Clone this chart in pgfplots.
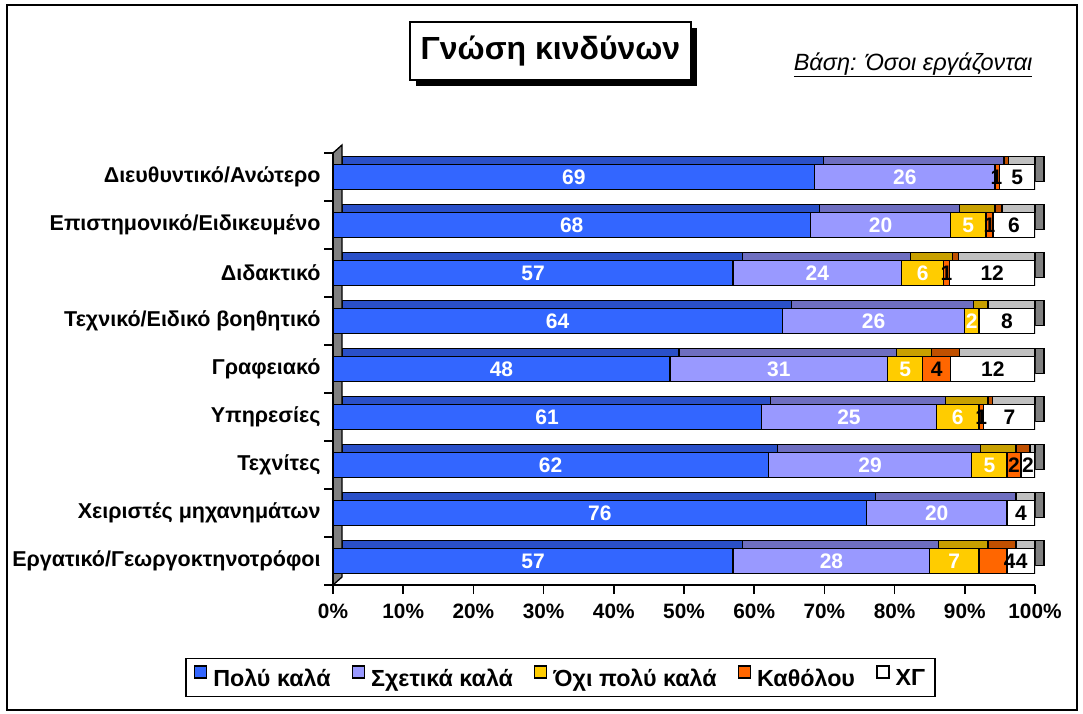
\documentclass[border=0pt]{standalone}
\usepackage{pgfplots}
\pgfplotsset{compat=1.18}
\usepackage{pgfplotstable}
\usepackage{fontspec}
\setmainfont{Liberation Sans}

\definecolor{cBlue}{HTML}{3366FF}
\definecolor{cBlueT}{HTML}{2A50C8}
\definecolor{cPurp}{HTML}{9999FF}
\definecolor{cPurpT}{HTML}{6E6EC0}
\definecolor{cYel}{HTML}{FFCC00}
\definecolor{cYelT}{HTML}{C8A000}
\definecolor{cOr}{HTML}{FF6600}
\definecolor{cOrT}{HTML}{C05000}
\definecolor{cGrT}{HTML}{C0C0C0}
\definecolor{cGrS}{HTML}{808080}

% front values
\pgfplotstableread{
y  a    b    c  d    e
8  68.6 25.7 0  0.6  5.1
7  68   20   5  1    6
6  57   24   6  0.8  12.2
5  64   26   2  0    8
4  48   31   5  4    12
3  61   25   6  0.7  7.3
2  62   29   5  2    2
1  76   20   0  0    4
0  57   28   7  4    4
}\datafront

% depth faces (same values, last 1.28 units form the side face)
\pgfplotstableread{
y  a    b    c  d    e     f
8  68.6 25.7 0  0.6  3.82  1.28
7  68   20   5  1    4.72  1.28
6  57   24   6  0.8  10.92 1.28
5  64   26   2  0    6.72  1.28
4  48   31   5  4    10.72 1.28
3  61   25   6  0.7  6.02  1.28
2  62   29   5  2    0.72  1.28
1  76   20   0  0    2.72  1.28
0  57   28   7  4    2.72  1.28
}\databack

\pgfplotstableread{
x     y  l
34.3  8  69
34    7  68
28.5  6  57
32    5  64
24    4  48
30.5  3  61
31    2  62
38    1  76
28.5  0  57
}\lblA
\pgfplotstableread{
x     y  l
81.45 8  26
78    7  20
69    6  24
77    5  26
63.5  4  31
73.5  3  25
76.5  2  29
86    1  20
71    0  28
}\lblB
\pgfplotstableread{
x     y  l
90.5  7  5
84    6  6
91    5  2
81.5  4  5
89    3  6
93.5  2  5
88.5  0  7
}\lblC
\pgfplotstableread{
x     y  l
94.5  8  1
93.5  7  1
87.4  6  1
86    4  4
92.35 3  1
97    2  2
96.4  0  4
}\lblD
\pgfplotstableread{
x     y  l
97.45 8  5
97    7  6
93.9  6  12
96    5  8
94    4  12
96.35 3  7
99    2  2
98    1  4
98.1  0  4
}\lblE

\pgfplotsset{
  myleg/.style={legend image code/.code={\draw[##1,draw=black,line width=1.5pt] (0pt,0pt) rectangle (12pt,12pt);}},
  segstyle/.style={draw=black, line width=1.3pt},
  lblstyle/.style={draw=none, mark=none, nodes near coords, point meta=explicit symbolic,
     every node near coord/.append style={anchor=center, font=\bfseries\fontsize{21}{25}\selectfont, text=#1, inner sep=0pt}},
}

\begin{document}
\begin{tikzpicture}
\path (0pt,0pt) rectangle (1083pt,713pt);
\draw[line width=1.6pt] (7pt,3pt) rectangle (1077pt,708pt);

% title
\fill[black] (416pt,627pt) rectangle (697pt,685pt);
\draw[fill=white,line width=1.5pt] (410pt,633pt) rectangle (691pt,691pt);
\node at (550.5pt,662pt) {\bfseries\fontsize{32}{38}\selectfont Γνώση κινδύνων};
\node[anchor=east] at (1036pt,648pt) {\itshape\fontsize{23.5}{28}\selectfont \underline{Βάση: Όσοι εργάζονται}};

% depth (top and side faces)
\begin{axis}[
  at={(342pt,136pt)}, anchor=south west,
  width=702pt, height=432pt, scale only axis,
  xmin=0, xmax=100, ymin=-0.5, ymax=8.5,
  hide axis, clip=false,
  xbar stacked, bar width=25pt,
]
\fill[cGrS, draw=black, line width=1.3pt] ([xshift=-9pt,yshift=-8pt]rel axis cs:0,0) -- (rel axis cs:0,0) -- (rel axis cs:0,1) -- ([xshift=-9pt,yshift=-8pt]rel axis cs:0,1) -- cycle;
\addplot[fill=cBlueT, segstyle] table[x=a,y=y] {\databack};
\addplot[fill=cPurpT, segstyle] table[x=b,y=y] {\databack};
\addplot[fill=cYelT, segstyle] table[x=c,y=y] {\databack};
\addplot[fill=cOrT, segstyle] table[x=d,y=y] {\databack};
\addplot[fill=cGrT, segstyle] table[x=e,y=y] {\databack};
\addplot[fill=cGrS, segstyle] table[x=f,y=y] {\databack};
\end{axis}

% front faces
\begin{axis}[
  at={(333pt,128pt)}, anchor=south west,
  width=702pt, height=432pt, scale only axis,
  xmin=0, xmax=100, ymin=-0.5, ymax=8.5,
  xbar stacked, bar width=25pt,
  axis x line*=bottom, axis y line*=left,
  axis line style={line width=1.6pt, -},
  tick align=outside, major tick length=9pt,
  tick style={black, line width=1.6pt},
  xtick={0,10,...,100},
  xticklabels={0\%,10\%,20\%,30\%,40\%,50\%,60\%,70\%,80\%,90\%,100\%},
  x tick label style={font=\bfseries\fontsize{20.8}{25}\selectfont, yshift=-6pt},
  ytick={-0.5,0.5,...,8.5}, yticklabels={},
  extra y ticks={0,1,2,3,4,5,6,7,8},
  extra y tick labels={Εργατικό/Γεωργοκτηνοτρόφοι, Χειριστές μηχανημάτων, Τεχνίτες, Υπηρεσίες, Γραφειακό, Τεχνικό/Ειδικό βοηθητικό, Διδακτικό, Επιστημονικό/Ειδικευμένο, Διευθυντικό/Ανώτερο},
  extra y tick style={major tick length=0pt, tick label style={font=\bfseries\fontsize{21.5}{25}\selectfont, xshift=-9pt}},
  legend columns=-1,
  legend style={at={(0.324,-0.214)}, anchor=center, draw=black, line width=1.4pt,
     font=\bfseries\fontsize{23.3}{27}\selectfont, inner xsep=8pt, inner ysep=7pt,
     /tikz/every even column/.append style={column sep=19pt},
     /tikz/every odd column/.append style={column sep=4pt}},
]
\addplot[fill=cBlue, segstyle, myleg] table[x=a,y=y] {\datafront};
\addplot[fill=cPurp, segstyle, myleg] table[x=b,y=y] {\datafront};
\addplot[fill=cYel, segstyle, myleg] table[x=c,y=y] {\datafront};
\addplot[fill=cOr, segstyle, myleg] table[x=d,y=y] {\datafront};
\addplot[fill=white, segstyle, myleg] table[x=e,y=y] {\datafront};
\legend{Πολύ καλά, Σχετικά καλά, Όχι πολύ καλά, Καθόλου, ΧΓ}
\end{axis}

% value labels
\begin{axis}[
  at={(333pt,128pt)}, anchor=south west,
  width=702pt, height=432pt, scale only axis,
  xmin=0, xmax=100, ymin=-0.5, ymax=8.5,
  hide axis, clip=false,
]
\addplot[lblstyle=white] table[x=x,y=y,meta=l] {\lblA};
\addplot[lblstyle=white] table[x=x,y=y,meta=l] {\lblB};
\addplot[lblstyle=white] table[x=x,y=y,meta=l] {\lblC};
\addplot[lblstyle=black] table[x=x,y=y,meta=l] {\lblD};
\addplot[lblstyle=black] table[x=x,y=y,meta=l] {\lblE};
\end{axis}
\end{tikzpicture}
\end{document}
